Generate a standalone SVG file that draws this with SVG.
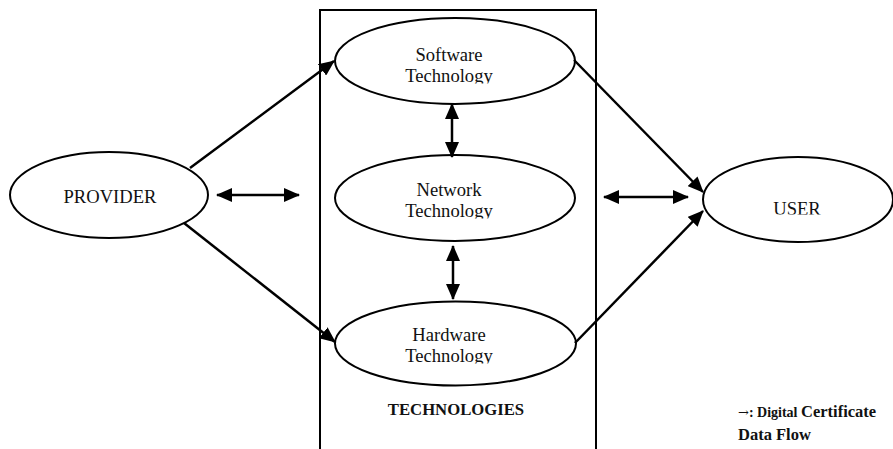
<svg xmlns="http://www.w3.org/2000/svg" width="893" height="449" viewBox="0 0 893 449">
  <style>
    .node ellipse { fill: #fff; stroke: #000; stroke-width: 2; }
    .lbl { font-family: "Liberation Serif", "Times New Roman", serif; font-size: 18.6px; fill: #111; text-anchor: middle; }
    .bold { font-family: "Liberation Serif", "Times New Roman", serif; font-weight: bold; fill: #111; }
    .conn line { stroke: #000; stroke-width: 2.5; }
    .arr { marker-end: url(#head); }
    .dbl { marker-start: url(#head); marker-end: url(#head); }
  </style>
  <defs>
    <marker id="head" markerUnits="userSpaceOnUse" markerWidth="16" markerHeight="14" viewBox="0 0 16 14" refX="15" refY="7" orient="auto-start-reverse">
      <path d="M0,0 L16,7 L0,14 Z" fill="#000"/>
    </marker>
    <clipPath id="clipSw"><rect x="330" y="30" width="250" height="53.5"/></clipPath>
    <clipPath id="clipNw"><rect x="330" y="170" width="250" height="48.5"/></clipPath>
    <clipPath id="clipHw"><rect x="330" y="315" width="250" height="48.5"/></clipPath>
    <clipPath id="clipUs"><rect x="700" y="180" width="193" height="34.5"/></clipPath>
  </defs>

  <rect width="893" height="449" fill="#fff"/>

  <!-- container for the technology layer -->
  <g id="technologies">
    <path d="M320,449 V10 H596 V449" fill="none" stroke="#000" stroke-width="2"/>
    <text class="bold" x="456" y="415" font-size="16.7" text-anchor="middle">TECHNOLOGIES</text>
  </g>

  <g id="provider" class="node">
    <ellipse cx="109" cy="195" rx="99" ry="43"/>
    <text class="lbl" x="110" y="203">PROVIDER</text>
  </g>

  <g id="software" class="node">
    <ellipse cx="455" cy="61" rx="120" ry="43"/>
    <g clip-path="url(#clipSw)">
      <text class="lbl" x="449" y="61">Software</text>
      <text class="lbl" x="449" y="82">Technology</text>
    </g>
  </g>

  <g id="network" class="node">
    <ellipse cx="455" cy="198" rx="120" ry="43"/>
    <g clip-path="url(#clipNw)">
      <text class="lbl" x="449" y="196">Network</text>
      <text class="lbl" x="449" y="217">Technology</text>
    </g>
  </g>

  <g id="hardware" class="node">
    <ellipse cx="455.5" cy="343.5" rx="120.5" ry="42"/>
    <g clip-path="url(#clipHw)">
      <text class="lbl" x="449" y="341">Hardware</text>
      <text class="lbl" x="449" y="362">Technology</text>
    </g>
  </g>

  <g id="user" class="node">
    <ellipse cx="798" cy="199.5" rx="95" ry="42.5"/>
    <g clip-path="url(#clipUs)">
      <text class="lbl" x="797" y="215">USER</text>
    </g>
  </g>

  <g id="connectors" class="conn">
    <line class="arr" x1="190" y1="168" x2="334" y2="61"/>
    <line class="arr" x1="184" y1="223" x2="335" y2="342"/>
    <line class="arr" x1="574" y1="60" x2="703" y2="192"/>
    <line class="arr" x1="575" y1="343" x2="703" y2="211"/>
    <line class="dbl" x1="217" y1="195" x2="299" y2="195"/>
    <line class="dbl" x1="604" y1="197" x2="688" y2="197"/>
    <line class="dbl" x1="452" y1="104" x2="452" y2="157"/>
    <line class="dbl" x1="453" y1="246" x2="453" y2="299"/>
  </g>

  <!-- legend -->
  <g id="legend">
    <text class="bold" x="738" y="417" font-size="16.5"><tspan font-family="'DejaVu Serif', serif" font-weight="normal" font-size="13">→</tspan><tspan font-size="14">: Digital </tspan>Certificate</text>
    <text class="bold" x="738" y="440" font-size="16.5">Data Flow</text>
  </g>
</svg>
